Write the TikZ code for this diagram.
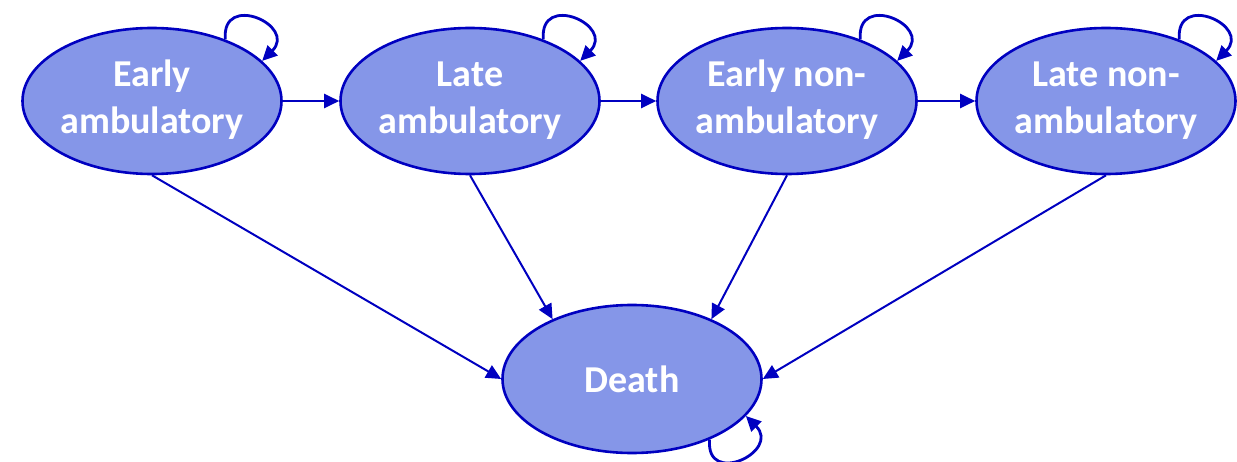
\documentclass[tikz,border=0pt]{standalone}
\usepackage{fontspec}
\setmainfont{Carlito}
\usetikzlibrary{shapes.geometric,arrows.meta}
\definecolor{statefill}{RGB}{133,150,232}
\definecolor{stateline}{RGB}{0,0,192}
\newcommand{\twolines}[2]{\raisebox{-2.6pt}{\begin{tabular}{@{}c@{}}#1\\#2\end{tabular}}}
\tikzset{
  state/.style={ellipse, draw=stateline, fill=statefill, line width=1.3pt,
    minimum width=129.5pt, minimum height=73pt, inner sep=0pt,
    text=white, font=\fontsize{19}{23.5}\selectfont\bfseries},
  arr/.style={draw=stateline, line width=1pt, -{Triangle[length=7.5pt,width=7pt]}},
  looparr/.style={arr, line width=1.4pt},
}
\begin{document}
\begin{tikzpicture}[x=0.5pt,y=0.5pt]
\useasboundingbox (0,0) rectangle (1237,461);
\node[state] (ea) at (152,360) {\twolines{Early}{ambulatory}};
\node[state] (la) at (470,360) {\twolines{Late}{ambulatory}};
\node[state] (en) at (787,360) {\twolines{Early non-}{ambulatory}};
\node[state] (ln) at (1106,360) {\twolines{Late non-}{ambulatory}};
\node[state, minimum height=74pt] (d) at (632,82) {Death};
\draw[arr] (ea.east) -- (la.west);
\draw[arr] (la.east) -- (en.west);
\draw[arr] (en.east) -- (ln.west);
\draw[arr] (ea.south) -- (d.west);
\draw[arr] (la.south) -- (d.143);
\draw[arr] (en.south) -- (d.37);
\draw[arr] (ln.south) -- (d.east);
\foreach \n in {ea,la,en,ln}{
  \draw[looparr] (\n.40) .. controls +(95:24pt) and +(45:25pt) .. (\n.20);
}
\draw[looparr] (d.-38) .. controls +(-95:24pt) and +(-45:25pt) .. (d.-18);
\end{tikzpicture}
\end{document}
